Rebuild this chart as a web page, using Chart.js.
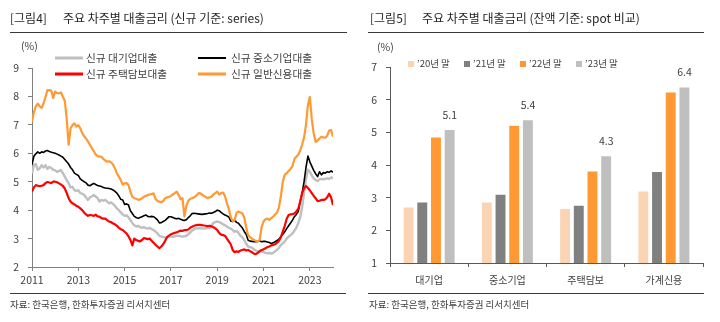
<!DOCTYPE html>
<html>
<head>
<meta charset="utf-8">
<script src="https://cdn.jsdelivr.net/npm/chart.js@4.4.1/dist/chart.umd.min.js"></script>
<style>
  body { margin: 0; background: #fff; }
  #wrap { position: relative; width: 720px; height: 322px; overflow: hidden;
          font-family: 'Noto Sans CJK KR', 'Noto Sans', sans-serif; color: #404040; }
  canvas { position: absolute; top: 0; }
  .t { position: absolute; white-space: nowrap; line-height: 1; transform: translateY(-50%); }
  .title { font-size: 12px; color: #262626; }
  .rule { position: absolute; height: 1px; background: #3a3a3a; }
  .src { font-size: 9.5px; color: #404040; }
  .unit { font-size: 10.5px; }
  .lg { font-size: 10.7px; }
  .lgline { position: absolute; height: 3px; transform: translateY(-50%); }
  .lgbox { position: absolute; width: 6px; height: 6px; transform: translateY(-50%); }
  .lg2 { font-size: 9.5px; }
</style>
</head>
<body>
<div id="wrap">
  <canvas id="lineChart" width="360" height="322" style="left:0"></canvas>
  <canvas id="barChart" width="360" height="322" style="left:360px"></canvas>

  <div class="t title" style="left:10px; top:18px">[그림4]</div>
  <div class="t title" style="left:63px; top:18px">주요 차주별 대출금리 (신규 기준: series)</div>
  <div class="rule" style="left:10px; top:32px; width:337px"></div>
  <div class="t unit" style="left:21px; top:46px">(%)</div>

  <div class="lgline" style="left:55px; top:58px; width:28px; background:#bfbfbf"></div>
  <div class="t lg" style="left:86px; top:58px">신규 대기업대출</div>
  <div class="lgline" style="left:198px; top:58px; width:28px; height:2px; background:#000"></div>
  <div class="t lg" style="left:231px; top:58px">신규 중소기업대출</div>
  <div class="lgline" style="left:55px; top:74px; width:28px; background:#ff0000"></div>
  <div class="t lg" style="left:86px; top:74px">신규 주택담보대출</div>
  <div class="lgline" style="left:198px; top:74px; width:28px; background:#ff9933"></div>
  <div class="t lg" style="left:231px; top:74px">신규 일반신용대출</div>

  <div class="rule" style="left:10px; top:293px; width:336px"></div>
  <div class="t src" style="left:10px; top:305px">자료: 한국은행, 한화투자증권 리서치센터</div>

  <div class="t title" style="left:370px; top:18px">[그림5]</div>
  <div class="t title" style="left:422px; top:18px">주요 차주별 대출금리 (잔액 기준: spot 비교)</div>
  <div class="rule" style="left:368px; top:32px; width:336px"></div>
  <div class="t unit" style="left:377px; top:47px">(%)</div>

  <div id="barLegend"></div>

  <div class="rule" style="left:368px; top:293px; width:336px"></div>
  <div class="t src" style="left:369px; top:305px">자료: 한국은행, 한화투자증권 리서치센터</div>
</div>

<script>
const fontFamily = "'Noto Sans CJK KR', 'Noto Sans', sans-serif";
Chart.defaults.font.family = fontFamily;
Chart.defaults.color = '#404040';

// monthly new-loan rates, Jan 2011 .. Jan 2024 (%)
const firstYear = 2011;
const xTickYears = [2011, 2013, 2015, 2017, 2019, 2021, 2023];

const largeCorp = [
  5.29, 5.59, 5.62, 5.42, 5.47, 5.58, 5.50, 5.58, 5.45, 5.52, 5.48, 5.42,
  5.40, 5.35, 5.37, 5.41, 5.30, 5.18, 5.05, 4.95, 4.80, 4.82, 4.70, 4.68,
  4.70, 4.60, 4.58, 4.53, 4.45, 4.36, 4.45, 4.48, 4.53, 4.48, 4.42, 4.30,
  4.36, 4.33, 4.36, 4.30, 4.24, 4.27, 4.22, 4.15, 4.06, 4.00, 3.92, 3.85,
  3.80, 3.82, 3.75, 3.65, 3.55, 3.47, 3.42, 3.45, 3.40, 3.38, 3.40, 3.37,
  3.35, 3.38, 3.33, 3.30, 3.25, 3.18, 3.10, 3.07, 3.05, 3.03, 3.05, 3.07,
  3.07, 3.06, 3.08, 3.10, 3.10, 3.08, 3.07, 3.08, 3.10, 3.15, 3.22, 3.28,
  3.33, 3.36, 3.36, 3.37, 3.36, 3.35, 3.36, 3.38, 3.36, 3.45, 3.55, 3.58,
  3.60, 3.58, 3.55, 3.50, 3.47, 3.42, 3.38, 3.35, 3.30, 3.24, 3.27, 3.20,
  3.10, 3.05, 2.95, 2.82, 2.72, 2.70, 2.68, 2.62, 2.58, 2.55, 2.57, 2.55,
  2.52, 2.50, 2.48, 2.50, 2.47, 2.50, 2.55, 2.60, 2.68, 2.77, 2.83, 2.90,
  3.00, 3.07, 3.12, 3.18, 3.28, 3.38, 3.55, 3.75, 4.10, 4.60, 5.10, 5.42,
  5.35, 5.22, 5.12, 5.06, 5.02, 5.08, 5.10, 5.08, 5.10, 5.12, 5.10, 5.15,
  5.12
];

const smeCorp = [
  5.60, 5.90, 5.98, 6.05, 6.00, 6.05, 6.03, 6.08, 6.10, 6.06, 6.04, 6.02,
  6.00, 5.97, 5.94, 5.90, 5.86, 5.78, 5.70, 5.62, 5.50, 5.42, 5.30, 5.26,
  5.22, 5.10, 5.05, 5.00, 4.96, 4.88, 4.86, 4.90, 4.94, 4.90, 4.87, 4.85,
  4.83, 4.80, 4.78, 4.77, 4.76, 4.74, 4.71, 4.66, 4.60, 4.50, 4.38, 4.36,
  4.20, 4.22, 4.18, 3.98, 3.88, 3.78, 3.74, 3.71, 3.74, 3.77, 3.80, 3.83,
  3.78, 3.77, 3.78, 3.77, 3.72, 3.66, 3.55, 3.56, 3.60, 3.64, 3.70, 3.77,
  3.77, 3.74, 3.71, 3.70, 3.71, 3.68, 3.65, 3.64, 3.66, 3.74, 3.80, 3.88,
  3.89, 3.88, 3.87, 3.86, 3.85, 3.86, 3.87, 3.88, 3.90, 3.89, 3.92, 3.95,
  4.00, 3.98, 3.92, 3.87, 3.83, 3.80, 3.76, 3.62, 3.60, 3.65, 3.57, 3.54,
  3.45, 3.38, 3.25, 3.15, 2.94, 2.91, 2.90, 2.89, 2.89, 2.90, 2.92, 2.89,
  2.90, 2.90, 2.88, 2.86, 2.83, 2.85, 2.89, 2.93, 2.98, 3.07, 3.15, 3.24,
  3.35, 3.45, 3.55, 3.65, 3.77, 3.85, 3.95, 4.30, 4.60, 5.00, 5.50, 5.90,
  5.70, 5.55, 5.40, 5.28, 5.18, 5.35, 5.24, 5.32, 5.30, 5.35, 5.33, 5.38,
  5.33
];

const mortgage = [
  4.65, 4.80, 4.88, 4.86, 4.84, 4.86, 4.88, 4.95, 4.99, 4.97, 4.95, 5.00,
  5.00, 4.98, 4.94, 4.90, 4.85, 4.76, 4.60, 4.42, 4.30, 4.24, 4.20, 4.15,
  4.12, 4.06, 4.00, 3.92, 3.85, 3.80, 3.83, 3.82, 3.80, 3.84, 3.78, 3.77,
  3.72, 3.70, 3.70, 3.65, 3.60, 3.58, 3.53, 3.50, 3.45, 3.38, 3.33, 3.30,
  3.24, 3.18, 3.08, 2.95, 2.76, 3.00, 2.95, 2.92, 2.90, 2.95, 3.02, 3.00,
  2.98, 3.00, 2.92, 2.85, 2.78, 2.72, 2.66, 2.72, 2.80, 2.92, 3.05, 3.10,
  3.15, 3.18, 3.20, 3.22, 3.25, 3.28, 3.27, 3.30, 3.30, 3.32, 3.38, 3.42,
  3.45, 3.47, 3.48, 3.48, 3.47, 3.46, 3.45, 3.44, 3.45, 3.43, 3.40, 3.36,
  3.30, 3.20, 3.14, 3.12, 3.10, 3.00, 2.90, 2.80, 2.60, 2.52, 2.55, 2.53,
  2.58, 2.60, 2.62, 2.58, 2.60, 2.56, 2.52, 2.47, 2.45, 2.50, 2.55, 2.60,
  2.62, 2.66, 2.70, 2.72, 2.76, 2.78, 2.80, 2.86, 2.92, 3.05, 3.25, 3.45,
  3.70, 3.83, 3.85, 3.86, 3.88, 3.95, 4.05, 4.30, 4.60, 4.77, 4.85, 4.78,
  4.70, 4.60, 4.50, 4.42, 4.32, 4.33, 4.36, 4.36, 4.38, 4.45, 4.58, 4.45,
  4.18
];

const creditLoan = [
  7.10, 7.45, 7.65, 7.75, 7.65, 7.60, 7.75, 7.98, 8.22, 8.22, 8.20, 7.95,
  8.17, 8.12, 8.11, 8.14, 7.99, 7.85, 7.20, 6.30, 6.88, 6.99, 7.05, 6.94,
  6.99, 6.88, 6.72, 6.60, 6.52, 6.42, 6.30, 6.18, 6.08, 5.96, 5.90, 5.88,
  5.88, 5.80, 5.74, 5.70, 5.72, 5.68, 5.60, 5.47, 5.30, 5.18, 5.06, 4.90,
  4.94, 4.95, 4.88, 4.65, 4.47, 4.42, 4.40, 4.36, 4.38, 4.42, 4.47, 4.50,
  4.53, 4.55, 4.57, 4.59, 4.40, 4.32, 4.30, 4.28, 4.32, 4.42, 4.45, 4.47,
  4.50, 4.55, 4.60, 4.65, 4.53, 4.38, 4.42, 3.78, 4.15, 4.33, 4.40, 4.42,
  4.45, 4.50, 4.58, 4.60, 4.55, 4.50, 4.47, 4.42, 4.45, 4.47, 4.55, 4.60,
  4.65, 4.55, 4.60, 4.62, 4.50, 4.25, 4.05, 3.75, 3.62, 3.65, 3.90, 3.95,
  3.92, 3.88, 3.75, 3.40, 3.12, 3.05, 3.00, 2.95, 2.92, 2.89, 2.95, 3.40,
  3.60, 3.68, 3.70, 3.66, 3.72, 3.77, 3.85, 3.92, 4.10, 4.50, 5.00, 5.25,
  5.30, 5.38, 5.45, 5.55, 5.80, 5.88, 5.95, 6.10, 6.30, 6.55, 7.00, 7.70,
  7.98, 7.20, 6.70, 6.40, 6.45, 6.52, 6.58, 6.56, 6.55, 6.62, 6.80, 6.82,
  6.58
];

// outstanding-balance rates at year end (%)
const barCategories = ['대기업', '중소기업', '주택담보', '가계신용'];
const bar20 = [2.73, 2.88, 2.68, 3.22];
const bar21 = [2.88, 3.12, 2.78, 3.82];
const bar22 = [4.87, 5.23, 3.83, 6.25];
const bar23 = [5.1, 5.4, 4.3, 6.4];
const barSeriesNames = ['’20년 말', '’21년 말', '’22년 말', '’23년 말'];
const barColors = ['#fbd4b4', '#808080', '#ff9933', '#bfbfbf'];

function toPoints(values) {
  return values.map((v, i) => ({ x: firstYear + i / 12, y: v }));
}

const tickFont = { size: 10.5, family: fontFamily };

new Chart(document.getElementById('lineChart'), {
  type: 'line',
  data: {
    datasets: [
      { label: '신규 대기업대출', data: toPoints(largeCorp), borderColor: '#bfbfbf', borderWidth: 2.4, order: 4 },
      { label: '신규 중소기업대출', data: toPoints(smeCorp), borderColor: '#000000', borderWidth: 1.6, order: 3 },
      { label: '신규 주택담보대출', data: toPoints(mortgage), borderColor: '#ff0000', borderWidth: 2.2, order: 2 },
      { label: '신규 일반신용대출', data: toPoints(creditLoan), borderColor: '#ff9933', borderWidth: 2.2, order: 1 },
    ],
  },
  options: {
    responsive: false,
    animation: false,
    devicePixelRatio: 1,
    layout: { padding: { left: 0, top: 68, right: 27, bottom: 0 } },
    elements: { point: { radius: 0 }, line: { tension: 0, borderJoinStyle: 'round' } },
    plugins: { legend: { display: false }, tooltip: { enabled: false } },
    scales: {
      x: {
        type: 'linear',
        min: 2011,
        max: 2024,
        afterBuildTicks: (scale) => { scale.ticks = xTickYears.map((v) => ({ value: v })); },
        afterFit: (scale) => { scale.height = 55; },
        grid: { drawOnChartArea: false, drawTicks: true, tickLength: 4, color: '#808080' },
        border: { color: '#808080', width: 1 },
        ticks: { font: tickFont, color: '#404040', padding: 3, maxRotation: 0, autoSkip: false, callback: (v) => String(v) },
      },
      y: {
        min: 2,
        max: 9,
        afterFit: (scale) => { scale.width = 32; },
        grid: { drawOnChartArea: false, drawTicks: true, tickLength: 4, color: '#808080' },
        border: { color: '#808080', width: 1 },
        ticks: { stepSize: 1, font: tickFont, color: '#404040', padding: 9 },
      },
    },
  },
});

// value labels over the latest year-end bars
const barValueLabels = {
  id: 'barValueLabels',
  afterDatasetsDraw(chart) {
    const ctx = chart.ctx;
    const meta = chart.getDatasetMeta(3);
    ctx.save();
    ctx.font = '10.5px ' + fontFamily;
    ctx.fillStyle = '#404040';
    ctx.textAlign = 'center';
    ctx.textBaseline = 'bottom';
    meta.data.forEach((bar, i) => {
      ctx.fillText(bar23[i].toFixed(1), bar.x, bar.y - 9);
    });
    ctx.restore();
  },
};

new Chart(document.getElementById('barChart'), {
  type: 'bar',
  data: {
    labels: barCategories,
    datasets: [bar20, bar21, bar22, bar23].map((vals, i) => ({
      label: barSeriesNames[i],
      data: vals,
      backgroundColor: barColors[i],
      borderColor: '#ffffff',
      borderWidth: 1,
      categoryPercentage: 0.7,
      barPercentage: 0.87,
    })),
  },
  options: {
    responsive: false,
    animation: false,
    devicePixelRatio: 1,
    layout: { padding: { left: 0, top: 67, right: 17, bottom: 0 } },
    plugins: { legend: { display: false }, tooltip: { enabled: false } },
    scales: {
      x: {
        afterFit: (scale) => { scale.height = 59; },
        grid: { drawOnChartArea: false, drawTicks: true, tickLength: 4, color: '#595959' },
        border: { color: '#595959', width: 1 },
        ticks: { font: { size: 10, family: fontFamily }, color: '#404040', padding: 7 },
      },
      y: {
        min: 1,
        max: 7,
        afterFit: (scale) => { scale.width = 30; },
        grid: { drawOnChartArea: false, drawTicks: true, tickLength: 4, color: '#595959' },
        border: { color: '#595959', width: 1 },
        ticks: { stepSize: 1, font: tickFont, color: '#404040', padding: 9 },
      },
    },
  },
  plugins: [barValueLabels],
});

// legend for the bar chart
const legendX = [408, 464, 520, 576];
const legendEl = document.getElementById('barLegend');
barSeriesNames.forEach((name, i) => {
  const box = document.createElement('div');
  box.className = 'lgbox';
  box.style.left = legendX[i] + 'px';
  box.style.top = '64px';
  box.style.background = barColors[i];
  legendEl.appendChild(box);
  const txt = document.createElement('div');
  txt.className = 't lg2';
  txt.style.left = (legendX[i] + 9) + 'px';
  txt.style.top = '64px';
  txt.textContent = name;
  legendEl.appendChild(txt);
});
</script>
</body>
</html>
